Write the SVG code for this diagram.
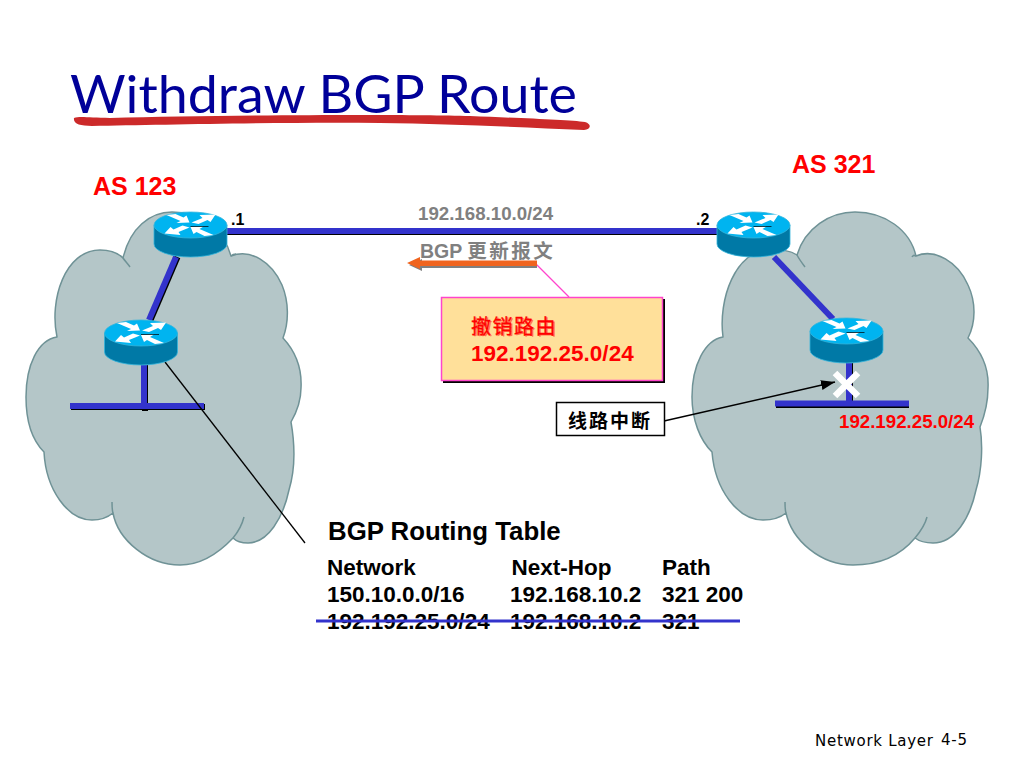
<svg xmlns="http://www.w3.org/2000/svg" width="1024" height="768" viewBox="0 0 1024 768">
<style>
text{font-family:"Liberation Sans","Noto Sans CJK SC",sans-serif;font-weight:bold}
.cloud{fill:#b4c6c8;stroke:#6f9296;stroke-width:1.5;stroke-linejoin:round}
.cusp{fill:none;stroke:#6f9296;stroke-width:1.5}
.link{stroke:#3333cc;stroke-width:6;fill:none}
.sh{stroke:#000;stroke-width:6;fill:none}
.red{fill:#ff0000}
.tb{font-size:22.5px;fill:#000}
.grey{fill:#808080}
</style>
<defs>
<g id="router">
<path d="M-36.500 0V19A36.500 13 0 0 0 36.500 19V0Z" fill="#0079a6" stroke="#33b5dc" stroke-width=".8"/>
<ellipse cx="0" cy="0" rx="36.500" ry="13" fill="#00b4f0" stroke="#33b5dc" stroke-width=".8"/>
<g fill="#fff">
<polygon points="-24,-10 -15,-11 -7,-7.500 -4,-9.500 -1,-2.500 -14,-2 -10,-4"/>
<polygon points="25,-10.500 9,-10 12,-7 1,-2.500 8,-1 17,-5 20,-3"/>
<polygon points="-26,8.500 -10,10 -12,7 -1,2.500 -8,0.500 -17,4.500 -20,2"/>
<polygon points="23,10 14,11 6,7 3,9 0,2 13,1.500 9,4"/>
</g>
<path d="M0 1.500H18" stroke="#000" stroke-width=".7"/>
</g>
<marker id="arr" markerUnits="userSpaceOnUse" markerWidth="16" markerHeight="12" refX="14" refY="5" orient="auto"><path d="M0 0L14 5L0 10Z" fill="#000"/></marker>
</defs>

<g id="title">
<text x="70" y="113" font-size="53" textLength="507" lengthAdjust="spacingAndGlyphs" style="font-family:'Lato','Liberation Sans',sans-serif;font-weight:normal" fill="#000099">Withdraw BGP Route</text>
<path id="underline" d="M74 118C80 116 90 118 110 118C220 115 400 114 470 116C520 118 570 120 585 122C592 124 591 130 584 130C520 127 450 124 380 123C280 122 160 125 92 126C80 126 73 124 74 118Z" fill="#cc2a2a"/>
</g>

<g id="cloud-as123">
<path class="cloud" d="M123 258C130 228 150 212 172 212C200 212 224 230 231 256C250 248 272 262 282 285C289 302 289 322 283 338C296 352 302 370 301 388C301 398 299 408 291 422C295 445 295 470 289 490C283 518 268 543 248 543C241 543 236 541 233 538C216 556 198 565 180 565C148 565 118 540 113 513C107 518 100 520 92 520C68 520 46 490 44 452C32 440 26 420 26 397C26 365 38 340 57 337C49 300 65 250 100 250C112 250 118 253 123 258Z"/>
<path class="cusp" d="M233 538C238 532 242 525 244 517M113 513C112 510 112 506 112 502M123 258C125 261 128 264 130 267M231 256C233 254 235 254 236 254"/>
</g>
<g id="cloud-as321">
<path class="cloud" d="M797 255C805 228 830 212 855 212C885 212 910 230 916 256C935 248 958 262 968 285C976 302 976 322 968 338C982 352 989 370 988 388C988 400 986 412 980 427C983 445 982 470 976 490C970 518 955 543 933 543C925 543 919 541 915 538C900 556 878 565 853 565C820 565 792 540 786 513C780 518 772 520 763 520C738 520 715 490 712 452C700 440 692 420 692 397C692 365 705 340 723 337C718 300 735 250 770 250C782 250 790 250 797 255Z"/>
<path class="cusp" d="M915 538C920 532 925 525 927 517M786 513C785 510 785 506 785 502M797 255C799 259 802 263 805 267M916 256C914 255 913 255 912 257"/>
</g>

<g id="connectors">
<path class="sh" d="M177.500 257L150.500 320"/><path class="link" d="M176 257L149 320"/>
<path class="sh" d="M145 365V411"/><path class="link" d="M144 365V410"/>
<path class="sh" d="M71 407H205"/><path class="link" d="M70 406H204"/>
<path class="sh" d="M227 232H717"/><path class="link" d="M227 231H717"/>
<path class="link" d="M774 257L833 319"/>
<path class="sh" d="M850 363V408"/><path class="link" d="M849 363V406"/>
<path class="sh" d="M776 405H909"/><path class="link" d="M775 403.500H909"/>
<path d="M165 362L305 543" stroke="#000" stroke-width="1.300" fill="none"/>
<path id="cut" d="M835 373L858 396M858 373L835 396" stroke="#fff" stroke-width="6.500" fill="none"/>
<path d="M664 421L835 382" stroke="#000" stroke-width="1.500" fill="none" marker-end="url(#arr)"/>
<path d="M536 264L569 297" stroke="#ff44cc" stroke-width="1.300" fill="none"/>
</g>

<g id="router-a1"><use href="#router" x="190.500" y="225"/></g>
<g id="router-a2"><use href="#router" x="141" y="333"/></g>
<g id="router-b1"><use href="#router" x="753.500" y="225"/></g>
<g id="router-b2"><use href="#router" x="846.500" y="331"/></g>

<text class="red" x="93" y="195" font-size="25">AS 123</text>
<text class="red" x="792" y="173" font-size="25">AS 321</text>
<text x="231" y="225" font-size="16">.1</text>
<text x="696" y="225" font-size="16">.2</text>
<text class="grey" x="418" y="220" font-size="18.700">192.168.10.0/24</text>

<g id="update-arrow">
<path d="M409 265L422 259V262.500H537V268H422V271Z" fill="#808080"/>
<path d="M407 263L420 257V260.500H537V266H420V269Z" fill="#f0641e"/>
</g>
<text class="grey" x="420" y="258" font-size="19.500">BGP <tspan letter-spacing="2.500">更新报文</tspan></text>

<g id="callout">
<rect x="443" y="299" width="222" height="84" fill="#000"/>
<rect x="441.500" y="297.500" width="221" height="83" fill="#ffe09a" stroke="#ff44cc" stroke-width="1.500"/>
<text class="red" x="471" y="334" font-size="20" letter-spacing="1.500" style="font-weight:normal" stroke="#ff0000" stroke-width=".3">撤销路由</text>
<text class="red" x="472.500" y="335" font-size="20" letter-spacing="1.500" style="font-weight:normal" fill-opacity=".5">撤销路由</text>
<text class="red" x="471" y="361" font-size="22.500">192.192.25.0/24</text>
</g>

<g id="break-label">
<rect x="556.500" y="402.500" width="108" height="33" fill="#fff" stroke="#000" stroke-width="1.500"/>
<text x="568" y="428" font-size="19" letter-spacing="2">线路中断</text>
</g>
<text class="red" x="839" y="428" font-size="18.700">192.192.25.0/24</text>

<g id="table">
<text x="328" y="540" font-size="25.800">BGP Routing Table</text>
<text class="tb" x="327" y="575">Network</text><text class="tb" x="511.500" y="575">Next-Hop</text><text class="tb" x="662" y="575">Path</text>
<text class="tb" x="327" y="602">150.10.0.0/16</text><text class="tb" x="510" y="602">192.168.10.2</text><text class="tb" x="662" y="602">321 200</text>
<text class="tb" x="327" y="629">192.192.25.0/24</text><text class="tb" x="510" y="629">192.168.10.2</text><text class="tb" x="662" y="629">321</text>
</g>
<path id="strike" d="M316 621H740" stroke="#3333cc" stroke-width="3" fill="none"/>

<g id="footer">
<text x="815" y="746" font-size="15" textLength="118" style="font-family:'DejaVu Sans',sans-serif;font-weight:normal">Network Layer</text>
<text x="941" y="745" font-size="15" textLength="26" style="font-family:'DejaVu Sans',sans-serif;font-weight:normal">4-5</text>
</g>
</svg>
